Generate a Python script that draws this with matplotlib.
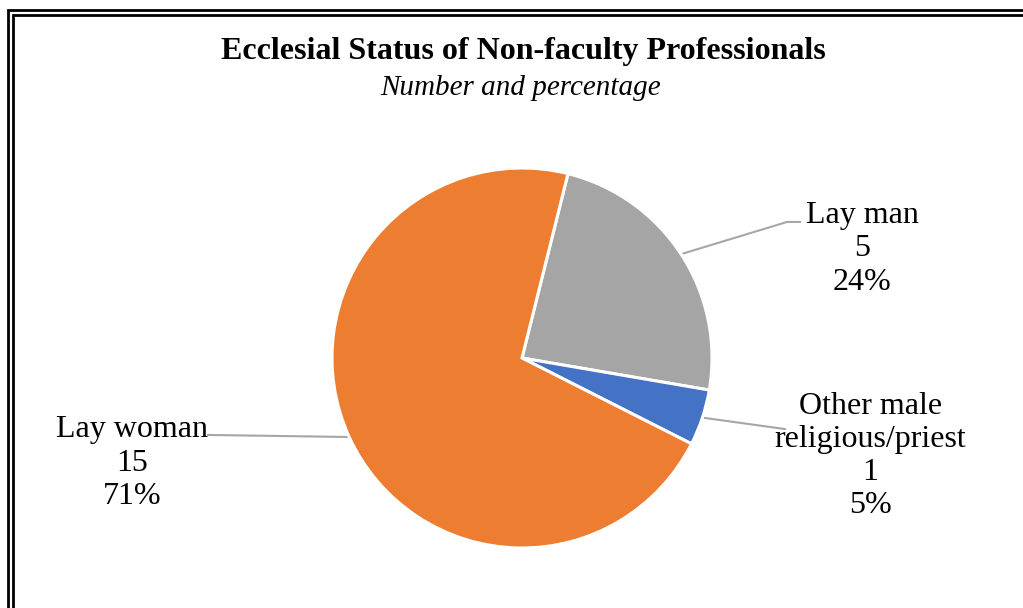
import numpy as np
import matplotlib.pyplot as plt
from matplotlib.patches import Rectangle

# Ecclesial status counts
labels = ["Lay man", "Other male\nreligious/priest", "Lay woman"]
counts = [5, 1, 15]
colors = ["#A5A5A5", "#4472C4", "#ED7D31"]

# label block positions (pie data units) and leader line ends
text_pos = [(1.79, 0.574), (1.832, -0.516), (-2.053, -0.553)]
line_end = [[(1.395, 0.716), (1.463, 0.716)], [(1.384, -0.374)], [(-1.653, -0.405)]]

plt.rcParams['font.family'] = ['Liberation Serif', 'DejaVu Serif']

fig = plt.figure(figsize=(10.23, 6.08), dpi=100)
W, H = 1023, 608

# double frame around the chart
for x0, y0 in [(8, 10), (13, 15)]:
    fig.patches.append(Rectangle((x0 / W, -0.1), 1.2, 1 - y0 / H + 0.1,
                                 transform=fig.transFigure, fill=False,
                                 edgecolor="black", linewidth=2))

ax = fig.add_axes([(522 - 190) / W, (608 - 548) / H, 380 / W, 380 / H])
wedges, _ = ax.pie(counts, colors=colors, startangle=76, counterclock=False,
                   radius=1, wedgeprops=dict(edgecolor="white", linewidth=2.2))
ax.set_xlim(-1, 1)
ax.set_ylim(-1, 1)
ax.set_aspect("equal")
ax.axis("off")

total = sum(counts)
for w, lab, n, (tx, ty), ends in zip(wedges, labels, counts, text_pos, line_end):
    mid = np.deg2rad((w.theta1 + w.theta2) / 2)
    xs = [np.cos(mid)] + [p[0] for p in ends]
    ys = [np.sin(mid)] + [p[1] for p in ends]
    ax.plot(xs, ys, color="#A6A6A6", linewidth=1.5, clip_on=False, zorder=0)
    pct = round(n / total * 100)
    ax.text(tx, ty, f"{lab}\n{n}\n{pct}%", ha="center", va="center",
            fontsize=23, linespacing=1.19, clip_on=False)

fig.text(523 / W, 1 - 52 / H, "Ecclesial Status of Non-faculty Professionals",
         ha="center", va="center", fontsize=23, fontweight="bold")
fig.text(521 / W, 1 - 88 / H, "Number and percentage",
         ha="center", va="center", fontsize=21, style="italic")

fig.savefig("out.png", dpi=100)
